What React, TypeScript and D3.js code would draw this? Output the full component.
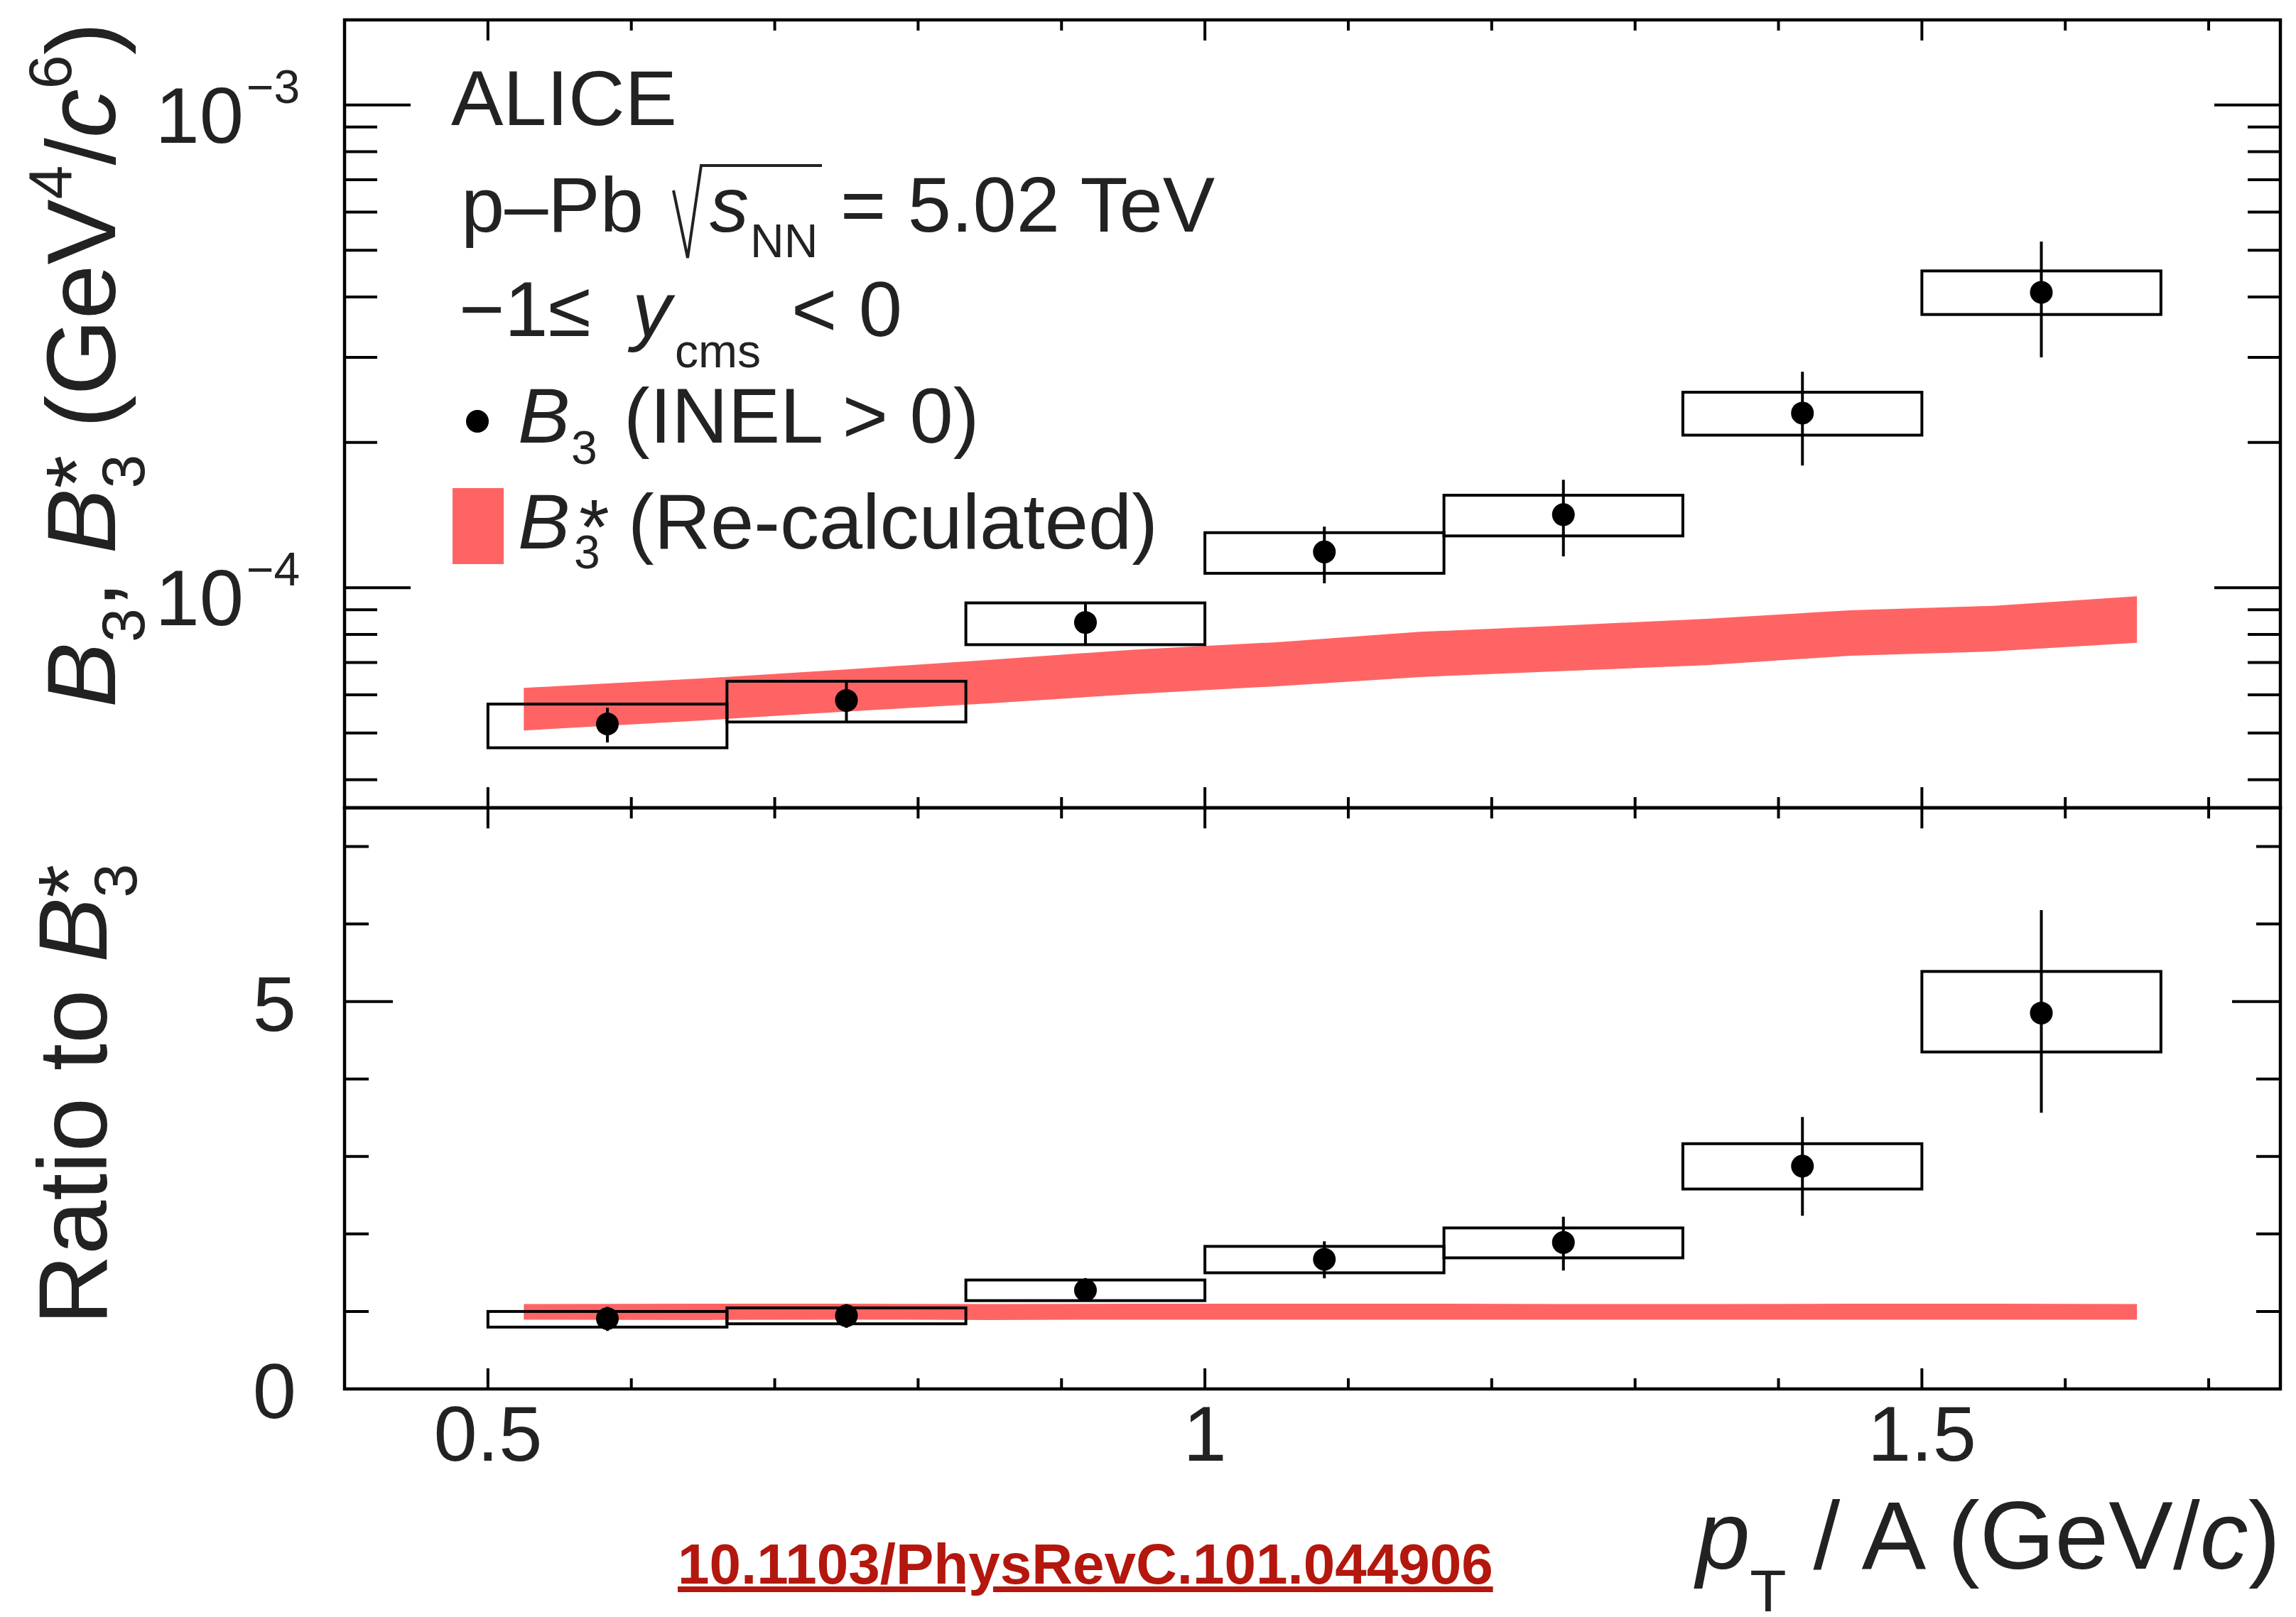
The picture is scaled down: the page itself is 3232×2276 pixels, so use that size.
import React from 'react'
import * as d3 from 'd3'

// pT/A bins (GeV/c)
const binEdges = [0.5, 0.6667, 0.8333, 1.0, 1.1667, 1.3333, 1.5, 1.6667]
const ptCenters = [0.5833, 0.75, 0.9167, 1.0833, 1.25, 1.4167, 1.5833]

// B3 (INEL > 0), GeV^4/c^6
const b3 = [5.22e-5, 5.84e-5, 8.47e-5, 1.186e-4, 1.417e-4, 2.30e-4, 4.09e-4]
const b3StatHi = [5.64e-5, 6.37e-5, 9.25e-5, 1.338e-4, 1.673e-4, 2.80e-4, 5.21e-4]
const b3StatLo = [4.78e-5, 5.29e-5, 7.65e-5, 1.021e-4, 1.161e-4, 1.79e-4, 3.0e-4]
const b3SysHi = [5.74e-5, 6.40e-5, 9.30e-5, 1.30e-4, 1.554e-4, 2.54e-4, 4.53e-4]
const b3SysLo = [4.66e-5, 5.27e-5, 7.62e-5, 1.071e-4, 1.28e-4, 2.07e-4, 3.68e-4]

// B3* re-calculated band
const bandPt = [0.525, 0.65, 0.75, 0.85, 0.95, 1.05, 1.15, 1.25, 1.35, 1.45, 1.55, 1.65]
const bandHi = [6.20e-5, 6.49e-5, 6.77e-5, 7.09e-5, 7.44e-5, 7.71e-5, 8.10e-5, 8.35e-5, 8.62e-5, 8.98e-5, 9.17e-5, 9.60e-5]
const bandLo = [5.06e-5, 5.31e-5, 5.54e-5, 5.76e-5, 6.02e-5, 6.25e-5, 6.53e-5, 6.72e-5, 6.91e-5, 7.23e-5, 7.38e-5, 7.69e-5]

// ratio to B3*
const ratio = [0.908, 0.945, 1.275, 1.673, 1.89, 2.876, 4.851]
const ratioStatHi = [1.061, 1.095, 1.431, 1.905, 2.222, 3.51, 6.18]
const ratioStatLo = [0.749, 0.789, 1.147, 1.428, 1.528, 2.236, 3.564]
const ratioSysHi = [1.0, 1.046, 1.406, 1.84, 2.078, 3.165, 5.388]
const ratioSysLo = [0.798, 0.841, 1.14, 1.499, 1.692, 2.58, 4.349]
const ratioBandHi = [1.095, 1.1, 1.1, 1.095, 1.1, 1.1, 1.1, 1.095, 1.095, 1.1, 1.1, 1.095]
const ratioBandLo = [0.895, 0.89, 0.895, 0.89, 0.895, 0.895, 0.895, 0.895, 0.895, 0.895, 0.895, 0.895]

const xTickLabels = ['0.5', '1', '1.5']
const ratioTickLabels = ['0', '5']

const W = 3232
const H = 2276
const left = 485
const right = 3210
const top = 28
const mid = 1137
const bottom = 1955
const font = '"Liberation Sans", Arial, Helvetica, sans-serif'
const textColor = '#222'
const bandColor = '#ff6464'

export default function App() {
  const x = d3.scaleLinear().domain([0.4, 1.75]).range([left, right])
  const yTop = d3.scaleLog().domain([3.5e-5, 1.5e-3]).range([mid, top])
  const yBot = d3.scaleLinear().domain([0, 7.5]).range([bottom, mid])

  const xTicks = d3.range(5, 18).map(i => i / 10)
  const isMajorX = (v: number) => Math.abs(v * 2 - Math.round(v * 2)) < 1e-6

  const logTicks: { v: number; major: boolean }[] = []
  for (const dec of [1e-5, 1e-4, 1e-3]) {
    for (let m = 1; m <= 9; m++) {
      const v = m * dec
      if (v > 3.5e-5 && v < 1.5e-3) logTicks.push({ v, major: m === 1 })
    }
  }
  const ratioTicks = d3.range(1, 8)

  const topBand = d3.area<number>()
    .x((_, i) => x(bandPt[i]))
    .y0((_, i) => yTop(bandLo[i]))
    .y1((_, i) => yTop(bandHi[i]))
  const botBand = d3.area<number>()
    .x((_, i) => x(bandPt[i]))
    .y0((_, i) => yBot(ratioBandLo[i]))
    .y1((_, i) => yBot(ratioBandHi[i]))

  const xTickMarks = (y0: number, dir: number, key: string) =>
    xTicks.map(v => {
      const len = isMajorX(v) ? 29 : 15
      return <line key={key + v} x1={x(v)} x2={x(v)} y1={y0} y2={y0 + dir * len} stroke="#000" strokeWidth={4} />
    })

  const points = (
    yS: (v: number) => number,
    c: number[], sHi: number[], sLo: number[], yHi: number[], yLo: number[], key: string
  ) => c.map((v, i) => (
    <g key={key + i}>
      <rect x={x(binEdges[i])} width={x(binEdges[i + 1]) - x(binEdges[i])}
        y={yS(yHi[i])} height={yS(yLo[i]) - yS(yHi[i])}
        fill="none" stroke="#000" strokeWidth={4} />
      <line x1={x(ptCenters[i])} x2={x(ptCenters[i])} y1={yS(sHi[i])} y2={yS(sLo[i])} stroke="#000" strokeWidth={4} />
      <circle cx={x(ptCenters[i])} cy={yS(v)} r={16} fill="#000" />
    </g>
  ))

  return (
    <svg width={W} height={H} style={{ position: 'absolute', left: 0, top: 0, background: '#fff' }}>
      <style>{'body{margin:0}'}</style>
      <rect width={W} height={H} fill="#fff" />

      {/* bands */}
      <path d={topBand(bandPt) || ''} fill={bandColor} />
      <path d={botBand(bandPt) || ''} fill={bandColor} />

      {/* data */}
      {points(yTop, b3, b3StatHi, b3StatLo, b3SysHi, b3SysLo, 'top')}
      {points(yBot, ratio, ratioStatHi, ratioStatLo, ratioSysHi, ratioSysLo, 'bot')}

      {/* frames */}
      <rect x={left} y={top} width={right - left} height={mid - top} fill="none" stroke="#000" strokeWidth={4.5} />
      <rect x={left} y={mid} width={right - left} height={bottom - mid} fill="none" stroke="#000" strokeWidth={4.5} />

      {/* x ticks */}
      {xTickMarks(top, 1, 'a')}
      {xTickMarks(mid, -1, 'b')}
      {xTickMarks(mid, 1, 'c')}
      {xTickMarks(bottom, -1, 'd')}

      {/* top y ticks */}
      {logTicks.map(t => {
        const len = t.major ? 93 : 46
        const yy = yTop(t.v)
        return (
          <g key={'ly' + t.v}>
            <line x1={left} x2={left + len} y1={yy} y2={yy} stroke="#000" strokeWidth={4} />
            <line x1={right} x2={right - len} y1={yy} y2={yy} stroke="#000" strokeWidth={4} />
          </g>
        )
      })}

      {/* ratio y ticks */}
      {ratioTicks.map(v => {
        const len = v % 5 === 0 ? 68 : 34
        const yy = yBot(v)
        return (
          <g key={'ry' + v}>
            <line x1={left} x2={left + len} y1={yy} y2={yy} stroke="#000" strokeWidth={4} />
            <line x1={right} x2={right - len} y1={yy} y2={yy} stroke="#000" strokeWidth={4} />
          </g>
        )
      })}

      <g fontFamily={font} fill={textColor}>
        {/* top y tick labels */}
        {logTicks.filter(t => t.major).map(t => (
          <g key={'lab' + t.v}>
            <text x={343} y={yTop(t.v) + 53} fontSize={112} textAnchor="end">10</text>
            <text x={347} y={yTop(t.v) - 3} fontSize={66}>{'\u2212' + Math.round(-Math.log10(t.v))}</text>
          </g>
        ))}

        {/* ratio tick labels */}
        {ratioTickLabels.map(s => (
          <text key={'rl' + s} x={417} y={yBot(+s) + 41} fontSize={110} textAnchor="end">{s}</text>
        ))}

        {/* x tick labels */}
        {xTickLabels.map(s => (
          <text key={'xl' + s} x={x(+s)} y={2056} fontSize={110} textAnchor="middle">{s}</text>
        ))}

        {/* y titles */}
        <text transform="translate(162,996) rotate(-90)" fontSize={138}>
          <tspan fontStyle="italic">B</tspan>
          <tspan fontSize={86} dy={41}>3</tspan>
          <tspan dy={-41}>, </tspan>
          <tspan fontStyle="italic">B</tspan>
          <tspan fontSize={86} dy={41}>3</tspan>
          <tspan fontSize={120} dx={-48} dy={-54}>*</tspan>
          <tspan dy={13}> (GeV</tspan>
          <tspan fontSize={86} dy={-62}>4</tspan>
          <tspan dy={62}>/</tspan>
          <tspan fontStyle="italic">c</tspan>
          <tspan fontSize={86} dy={-62}>6</tspan>
          <tspan dy={62}>)</tspan>
        </text>
        <text transform="translate(150,1865) rotate(-90)" fontSize={137}>
          <tspan>Ratio to </tspan>
          <tspan fontStyle="italic">B</tspan>
          <tspan fontSize={86} dy={42}>3</tspan>
          <tspan fontSize={120} dx={-48} dy={-54}>*</tspan>
        </text>

        {/* x title */}
        <text x={right} y={2208} fontSize={136} textAnchor="end">
          <tspan fontStyle="italic">p</tspan>
          <tspan fontSize={84} dy={60}>T</tspan>
          <tspan dy={-60}> / A (GeV/</tspan>
          <tspan fontStyle="italic">c</tspan>
          <tspan>)</tspan>
        </text>

        {/* legend / labels */}
        <text x={635} y={176} fontSize={110}>ALICE</text>
        <text x={649} y={326} fontSize={110}>p–Pb</text>
        <path d="M948,268 L968,363 L987,233 L1157,233" fill="none" stroke={textColor} strokeWidth={4} />
        <text x={999} y={326} fontSize={110} fontStyle="italic">s</text>
        <text x={1056} y={362} fontSize={66}>NN</text>
        <text x={1183} y={326} fontSize={110}>= 5.02 TeV</text>

        <text x={646} y={473} fontSize={110}>−1≤</text>
        <text x={890} y={473} fontSize={110} fontStyle="italic">y</text>
        <text x={950} y={517} fontSize={66}>cms</text>
        <text x={1114} y={473} fontSize={110}>&lt; 0</text>

        <circle cx={672} cy={593} r={16} fill="#000" />
        <text x={729} y={623} fontSize={110} fontStyle="italic">B</text>
        <text x={804} y={653} fontSize={66}>3</text>
        <text x={878} y={623} fontSize={110}>(INEL &gt; 0)</text>

        <rect x={637} y={687} width={72} height={107} fill={bandColor} />
        <text x={729} y={772} fontSize={110} fontStyle="italic">B</text>
        <text x={815} y={779} fontSize={110}>*</text>
        <text x={808} y={800} fontSize={66}>3</text>
        <text x={884} y={772} fontSize={110}>(Re-calculated)</text>

        {/* DOI */}
        <text x={954} y={2229} fontSize={80} fontWeight="bold" fill="#b3170d" textDecoration="underline">10.1103/PhysRevC.101.044906</text>
      </g>
    </svg>
  )
}
